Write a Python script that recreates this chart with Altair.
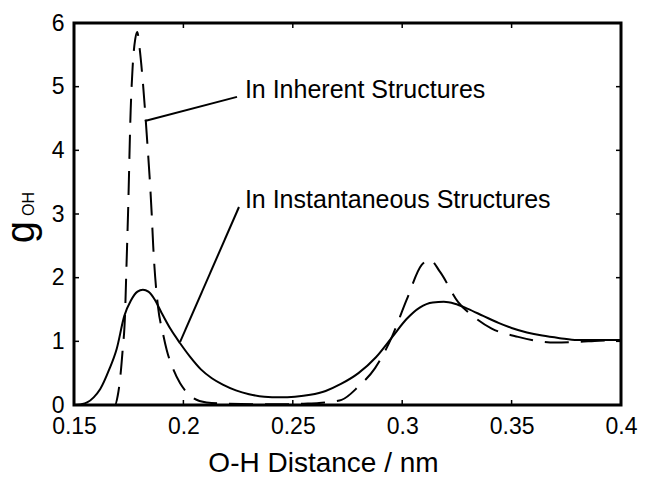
import altair as alt
import pandas as pd

# Instantaneous structures (solid)
inst_x = [0.150, 0.153, 0.156, 0.159, 0.162, 0.166, 0.1695, 0.173, 0.176, 0.179, 0.1815,
          0.184, 0.187, 0.190, 0.194, 0.1985, 0.203, 0.208, 0.213, 0.218, 0.224, 0.230,
          0.237, 0.244, 0.251, 0.258, 0.265, 0.272, 0.280, 0.288, 0.2955, 0.302, 0.308,
          0.314, 0.319, 0.324, 0.330, 0.337, 0.344, 0.350, 0.357, 0.364, 0.372, 0.380,
          0.390, 0.400]
inst_y = [0.0, 0.01, 0.04, 0.12, 0.25, 0.55, 0.88, 1.40, 1.64, 1.78, 1.81,
          1.78, 1.65, 1.45, 1.20, 0.97, 0.76, 0.56, 0.42, 0.32, 0.23, 0.17,
          0.13, 0.12, 0.13, 0.16, 0.22, 0.33, 0.50, 0.75, 1.07, 1.35, 1.53,
          1.61, 1.62, 1.59, 1.51, 1.40, 1.29, 1.21, 1.14, 1.09, 1.05, 1.02,
          1.02, 1.02]

# Inherent structures (dashed)
inh_x = [0.150, 0.166, 0.1687, 0.1700, 0.1710, 0.1722, 0.1733, 0.1740, 0.1747, 0.1759,
         0.1768, 0.1780, 0.1789, 0.1800, 0.1814, 0.1832, 0.1855, 0.1862, 0.1884, 0.1905,
         0.1924, 0.1955, 0.1985, 0.2015, 0.2045, 0.2106, 0.220, 0.240, 0.255, 0.262,
         0.267, 0.2723, 0.280, 0.2876, 0.2953, 0.302, 0.3089, 0.3127, 0.3173, 0.3255,
         0.3333, 0.3409, 0.353, 0.3699, 0.380, 0.390, 0.400]
inh_y = [0.0, 0.0, 0.0, 0.15, 0.39, 0.85, 1.40, 2.2, 3.01, 4.63,
         5.31, 5.75, 5.86, 5.6, 5.10, 4.27, 3.01, 2.5, 1.54, 1.15,
         0.86, 0.55, 0.34, 0.20, 0.11, 0.04, 0.02, 0.01, 0.02, 0.03,
         0.05, 0.08, 0.29, 0.58, 1.07, 1.65, 2.20, 2.28, 2.09, 1.62,
         1.37, 1.20, 1.07, 0.98, 0.99, 1.01, 1.02]

x_ticks = [0.15, 0.2, 0.25, 0.3, 0.35, 0.4]
y_ticks = [0, 1, 2, 3, 4, 5, 6]
x_inner_ticks = [0.2, 0.25, 0.3, 0.35]
y_inner_ticks = [1, 2, 3, 4, 5]

ann_text = ["In Inherent Structures", "In Instantaneous Structures"]
ann_tx = [0.2281, 0.2281]
ann_ty = [4.82, 3.09]
lead_x1 = [0.1824, 0.1985]
lead_y1 = [4.46, 0.99]
lead_x2 = [0.2245, 0.2254]
lead_y2 = [4.84, 3.11]

W, H = 547, 382
FONT = "Liberation Sans"

xs = alt.Scale(domain=[0.15, 0.4], nice=False)
ys = alt.Scale(domain=[0, 6], nice=False)

inst_df = pd.DataFrame({"x": inst_x, "y": inst_y})
inh_df = pd.DataFrame({"x": inh_x, "y": inh_y})

base_x = alt.X("x:Q", scale=xs,
               axis=alt.Axis(values=x_ticks, format="~g", title="O-H Distance / nm",
                             grid=False, domain=False, ticks=False, labelFlush=False,
                             labelOverlap=False, labelFontSize=23, labelFont=FONT,
                             labelColor="black", labelPadding=10, titleFontSize=28,
                             titleFont=FONT, titleFontWeight="normal", titleColor="black",
                             titleX=249, titleY=66, titleBaseline="alphabetic"))
base_y = alt.Y("y:Q", scale=ys,
               axis=alt.Axis(values=y_ticks, format="d", title=None, grid=False,
                             domain=False, ticks=False, labelFontSize=23, labelFont=FONT,
                             labelColor="black", labelPadding=10))

solid = alt.Chart(inst_df).mark_line(color="black", strokeWidth=2,
                                     interpolate="monotone").encode(x=base_x, y=base_y)
dashed = alt.Chart(inh_df).mark_line(color="black", strokeWidth=2, strokeDash=[24, 12],
                                     interpolate="monotone").encode(
    x=alt.X("x:Q", scale=xs), y=alt.Y("y:Q", scale=ys))

xt_df = pd.DataFrame({"t": x_inner_ticks})
yt_df = pd.DataFrame({"t": y_inner_ticks})
tb = alt.Chart(xt_df).mark_rule(color="black", strokeWidth=1.5).encode(
    x=alt.X("t:Q", scale=xs), y=alt.value(H), y2=alt.value(H - 5))
tt = alt.Chart(xt_df).mark_rule(color="black", strokeWidth=1.5).encode(
    x=alt.X("t:Q", scale=xs), y=alt.value(0), y2=alt.value(5))
tl = alt.Chart(yt_df).mark_rule(color="black", strokeWidth=1.5).encode(
    y=alt.Y("t:Q", scale=ys), x=alt.value(0), x2=alt.value(5))
tr = alt.Chart(yt_df).mark_rule(color="black", strokeWidth=1.5).encode(
    y=alt.Y("t:Q", scale=ys), x=alt.value(W), x2=alt.value(W - 5))

ann_df = pd.DataFrame({"text": ann_text, "x": ann_tx, "y": ann_ty})
ann = alt.Chart(ann_df).mark_text(align="left", baseline="alphabetic", fontSize=25,
                                  font=FONT, color="black").encode(
    x=alt.X("x:Q", scale=xs), y=alt.Y("y:Q", scale=ys), text="text:N")

lead_df = pd.DataFrame({"x1": lead_x1, "y1": lead_y1, "x2": lead_x2, "y2": lead_y2})
lead = alt.Chart(lead_df).mark_rule(color="black", strokeWidth=2).encode(
    x=alt.X("x1:Q", scale=xs), y=alt.Y("y1:Q", scale=ys), x2="x2:Q", y2="y2:Q")

g_title = alt.Chart(pd.DataFrame({"t": ["g"]})).mark_text(
    angle=270, align="center", baseline="alphabetic", fontSize=40, font=FONT,
    color="black").encode(x=alt.value(-40), y=alt.value(209), text="t:N")
oh_title = alt.Chart(pd.DataFrame({"t": ["OH"]})).mark_text(
    angle=270, align="center", baseline="alphabetic", fontSize=16, font=FONT,
    color="black").encode(x=alt.value(-40), y=alt.value(181), text="t:N")

chart = alt.layer(solid, dashed, tb, tt, tl, tr, lead, ann, g_title, oh_title).properties(
    width=W, height=H,
    autosize=alt.AutoSizeParams(type="none"),
    padding={"left": 66, "top": 15, "right": 20, "bottom": 74},
).configure_view(stroke="black", strokeWidth=3)

chart.save("out.html", embed_options={"renderer": "svg", "actions": False})
